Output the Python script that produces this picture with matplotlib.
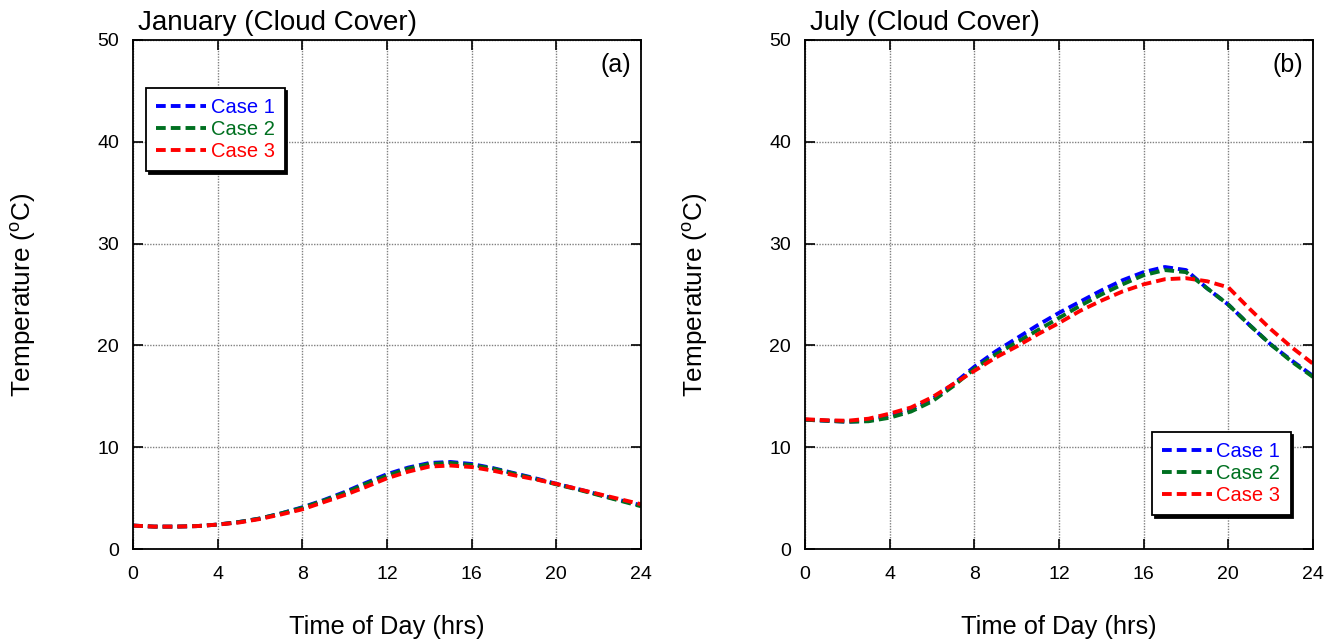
import matplotlib
matplotlib.use("Agg")
import matplotlib.pyplot as plt

plt.rcParams['font.family'] = ['Liberation Sans', 'DejaVu Sans']
plt.rcParams['mathtext.default'] = 'regular'

# hourly temperatures (deg C)
hours = list(range(25))

jan_case1 = [2.3, 2.2, 2.2, 2.25, 2.4, 2.65, 3.0, 3.5, 4.1, 4.8, 5.6, 6.5, 7.35,
             8.0, 8.45, 8.55, 8.35, 7.95, 7.45, 6.95, 6.4, 5.9, 5.35, 4.8, 4.3]
jan_case2 = [2.3, 2.2, 2.2, 2.25, 2.4, 2.65, 3.0, 3.5, 4.05, 4.75, 5.5, 6.4, 7.2,
             7.9, 8.35, 8.45, 8.25, 7.9, 7.4, 6.9, 6.35, 5.85, 5.3, 4.75, 4.2]
jan_case3 = [2.3, 2.2, 2.2, 2.25, 2.4, 2.6, 2.95, 3.4, 3.9, 4.6, 5.3, 6.1, 6.95,
             7.6, 8.1, 8.2, 8.05, 7.7, 7.25, 6.85, 6.4, 5.9, 5.4, 4.9, 4.4]

jul_case1 = [12.7, 12.6, 12.5, 12.6, 13.1, 13.7, 14.7, 16.2, 17.9, 19.4, 20.7, 22.0, 23.2,
             24.3, 25.4, 26.4, 27.2, 27.7, 27.4, 25.6, 24.0, 22.0, 20.1, 18.5, 17.0]
jul_case2 = [12.7, 12.6, 12.5, 12.55, 12.9, 13.5, 14.5, 16.0, 17.7, 19.1, 20.3, 21.5, 22.7,
             23.9, 25.0, 26.0, 26.9, 27.4, 27.2, 25.6, 24.0, 22.0, 20.1, 18.4, 16.9]
jul_case3 = [12.75, 12.65, 12.6, 12.8, 13.3, 13.9, 14.9, 16.2, 17.5, 18.8, 19.9, 21.1, 22.2,
             23.4, 24.4, 25.3, 26.0, 26.5, 26.6, 26.3, 25.7, 23.6, 21.6, 19.8, 18.2]

case_labels = ['Case 1', 'Case 2', 'Case 3']
case_colors = ['#0000ff', '#007020', '#ff0000']

x_ticks = [0, 4, 8, 12, 16, 20, 24]
y_ticks = [0, 10, 20, 30, 40, 50]

fig = plt.figure(figsize=(13.36, 6.41), dpi=100)
ax_a = fig.add_axes([0.0996, 0.1435, 0.3802, 0.7941])
ax_b = fig.add_axes([0.6026, 0.1435, 0.3802, 0.7941])


def draw_panel(ax, series, title, tag, leg_anchor):
    for vals, lab, col in zip(series, case_labels, case_colors):
        ax.plot(hours, vals, color=col, lw=2.8, linestyle=(0, (2.5, 1.3)), label=lab)
    ax.set_xlim(0, 24)
    ax.set_ylim(0, 50)
    ax.set_xticks(x_ticks)
    ax.set_yticks(y_ticks)
    ax.grid(True, color='#808080', linestyle=(0, (1, 1)), lw=1.0)
    ax.tick_params(direction='in', length=7, width=1.2, labelsize=14,
                   top=True, right=True, pad=10)
    ax.tick_params(axis='x', pad=12)
    for sp in ax.spines.values():
        sp.set_linewidth(1.3)
    ax.set_xlabel('Time of Day (hrs)', fontsize=18.3)
    ax.set_ylabel('Temperature ($^{o}$C)', fontsize=18.8)
    ax.xaxis.set_label_coords(0.5, -0.13)
    ax.yaxis.set_label_coords(-0.187, 0.5)
    ax.text(0.01, 1.0196, title, transform=ax.transAxes, fontsize=20,
            ha='left', va='baseline')
    ax.text(0.98, 0.975, tag, transform=ax.transAxes, fontsize=18,
            ha='right', va='top')
    leg = ax.legend(loc='upper left', bbox_to_anchor=leg_anchor, borderaxespad=0,
                    fontsize=14.5, labelcolor='linecolor', fancybox=False,
                    edgecolor='black', framealpha=1,
                    shadow={'color': 'black', 'alpha': 1},
                    handlelength=2.5, handletextpad=0.2, labelspacing=0.15,
                    borderpad=0.5)
    leg.get_frame().set_linewidth(1.3)


draw_panel(ax_a, [jan_case1, jan_case2, jan_case3], 'January (Cloud Cover)', '(a)',
           (0.0256, 0.906))
draw_panel(ax_b, [jul_case1, jul_case2, jul_case3], 'July (Cloud Cover)', '(b)',
           (0.683, 0.230))

fig.savefig('out.png', dpi=100)
